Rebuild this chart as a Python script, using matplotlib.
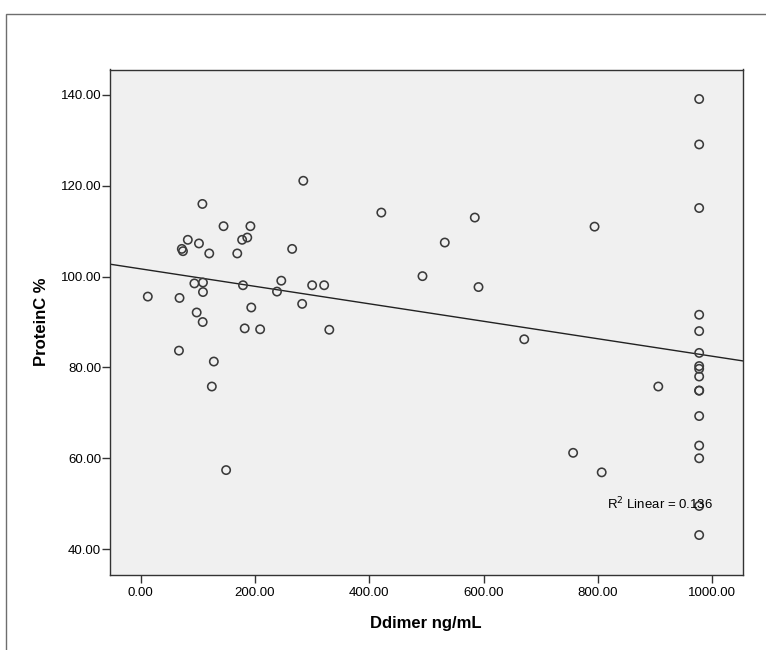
import numpy as np
import matplotlib
matplotlib.use('Agg')
import matplotlib.pyplot as plt
from matplotlib.patches import Rectangle

plt.rcParams['font.family'] = ['Liberation Sans', 'DejaVu Sans']

# D-dimer (ng/mL) and protein C (%)
ddimer = [284.5, 108, 145, 192, 82.5, 177.5, 186.5, 102, 72, 74,
          265, 120, 169, 94, 109, 179, 246, 238.5, 300, 321,
          109, 12.5, 68, 282.5, 193.5, 98, 108.5, 182, 209, 330,
          67, 128, 124.5, 149.5, 421, 584.5, 532, 493, 591, 671,
          794, 905.5, 756.5, 806.5,
          977, 977, 977, 977, 977, 977, 977, 977, 977, 977,
          977, 977, 977, 977, 977, 977]
protein_c = [121.1, 116.0, 111.1, 111.1, 108.1, 108.1, 108.6, 107.3, 106.1, 105.6,
             106.1, 105.1, 105.1, 98.5, 98.7, 98.1, 99.1, 96.7, 98.1, 98.1,
             96.6, 95.6, 95.3, 94.0, 93.2, 92.1, 90.0, 88.6, 88.4, 88.3,
             83.7, 81.3, 75.8, 57.4, 114.1, 113.0, 107.5, 100.1, 97.7, 86.2,
             111.0, 75.8, 61.2, 56.9,
             139.1, 129.1, 115.1, 91.6, 88.0, 83.2, 80.3, 79.7, 78.0, 74.9,
             74.9, 69.3, 62.8, 60.0, 49.5, 43.1]

x_ticks = [0, 200, 400, 600, 800, 1000]
y_ticks = [40, 60, 80, 100, 120, 140]
r2_label = 'R$^2$ Linear = 0.136'

x = np.array(ddimer)
y = np.array(protein_c)
slope, intercept = np.polyfit(x, y, 1)
r2 = np.corrcoef(x, y)[0, 1] ** 2
print('fit', slope, intercept, r2)

fig = plt.figure(figsize=(7.66, 6.5), dpi=100)
fig.patch.set_facecolor('white')

# outer chart frame (only left/top edges are inside the picture)
fig.add_artist(Rectangle((6 / 766, -0.1), 1.2, 1 - 14 / 650 + 0.1,
                         transform=fig.transFigure, fill=False,
                         edgecolor='#6e6e6e', linewidth=1.0))

ax = fig.add_axes([109.5 / 766, 1 - 575 / 650, (742.5 - 109.5) / 766, (575 - 69.5) / 650])
ax.set_facecolor('#f0f0f0')

ax.scatter(x, y, s=36, facecolors='none', edgecolors='#3a3a3a', linewidths=1.15, zorder=3)

xlim = (-54.5, 1052.8)
xs = np.array(xlim)
ax.plot(xs, intercept + slope * xs, color='#222222', linewidth=1.0, zorder=2)

ax.set_xlim(*xlim)
ax.set_ylim(34.3, 145.6)
ax.set_xticks(x_ticks)
ax.set_yticks(y_ticks)
ax.set_xticklabels([f'{v:.2f}' for v in x_ticks], fontsize=9.5)
ax.set_yticklabels([f'{v:.2f}' for v in y_ticks], fontsize=9.5)
ax.tick_params(direction='out', length=5.5, width=1, color='#333333')
ax.tick_params(axis='x', pad=3.5)
ax.tick_params(axis='y', pad=0.5)

for sp in ax.spines.values():
    sp.set_color('#333333')
    sp.set_linewidth(1.0)

ax.set_xlabel('Ddimer ng/mL', fontsize=12, fontweight='bold', labelpad=12)
ax.set_ylabel('ProteinC %', fontsize=12, fontweight='bold', labelpad=8)

ax.text(816, 49.9, r2_label, fontsize=9.5, ha='left', va='center', zorder=4)

fig.savefig('out.png', dpi=100)
